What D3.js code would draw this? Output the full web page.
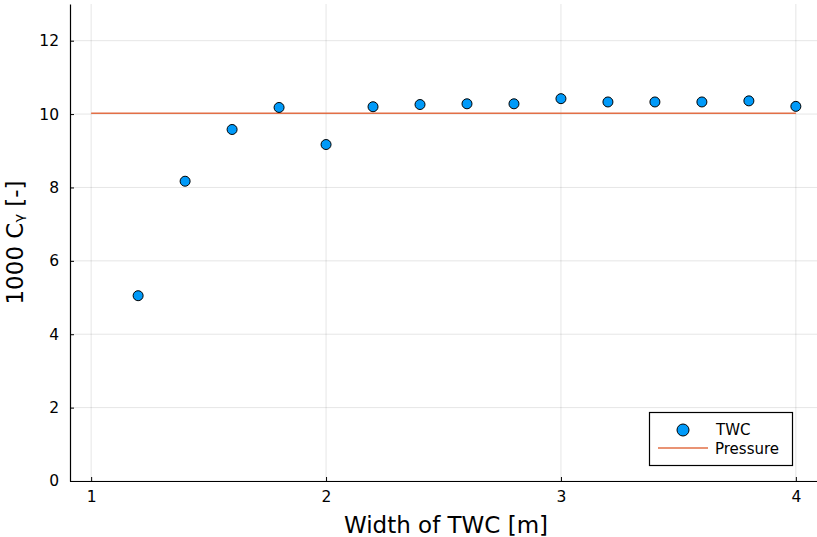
<!DOCTYPE html>
<html>
<head>
<meta charset="utf-8">
<script src="https://cdn.jsdelivr.net/npm/d3@7"></script>
<style>
  html, body { margin: 0; padding: 0; background: #fff; }
  svg text { font-family: "DejaVu Sans", sans-serif; }
</style>
</head>
<body>
<svg id="chart" width="817" height="537"></svg>
<script>
// TWC width sweep and the pressure-based reference value
const widths = [1.2, 1.4, 1.6, 1.8, 2.0, 2.2, 2.4, 2.6, 2.8, 3.0, 3.2, 3.4, 3.6, 3.8, 4.0];
const twcValues = [5.05, 8.17, 9.58, 10.18, 9.17, 10.20, 10.26, 10.28, 10.28, 10.42, 10.33, 10.33, 10.33, 10.36, 10.21];
const pressureX = [1.0, 4.0];
const pressureValues = [10.02, 10.02];
const xTicks = [1, 2, 3, 4];
const yTicks = [0, 2, 4, 6, 8, 10, 12];

const svg = d3.select("#chart");
const W = 817, H = 537;
const m = { left: 70, right: 0, top: 4, bottom: 56 };

const x = d3.scaleLinear().domain([0.91, 4.09]).range([m.left, W - m.right]);
const y = d3.scaleLinear().domain([0, 13]).range([H - m.bottom, m.top]);

// grid
const grid = svg.append("g").attr("stroke", "#000").attr("stroke-opacity", 0.1).attr("stroke-width", 1);
xTicks.forEach(t => grid.append("line")
  .attr("x1", x(t)).attr("x2", x(t)).attr("y1", y.range()[0]).attr("y2", y.range()[1]));
yTicks.forEach(t => grid.append("line")
  .attr("x1", x.range()[0]).attr("x2", x.range()[1]).attr("y1", y(t)).attr("y2", y(t)));

// axes
const xAxis = d3.axisBottom(x).tickValues(xTicks).tickFormat(d3.format("d")).tickSizeInner(-4).tickSizeOuter(0).tickPadding(10);
const yAxis = d3.axisLeft(y).tickValues(yTicks).tickFormat(d3.format("d")).tickSizeInner(-4).tickSizeOuter(0).tickPadding(11);

const gx = svg.append("g").attr("transform", `translate(0,${y(0)})`).call(xAxis);
const gy = svg.append("g").attr("transform", `translate(${m.left},0)`).call(yAxis);
[gx, gy].forEach(g => {
  g.select(".domain").attr("stroke", "#000").attr("stroke-width", 1.2);
  g.selectAll(".tick line").attr("stroke", "#000").attr("stroke-width", 1);
  g.selectAll(".tick text").attr("fill", "#000").style("font-size", "15.5px").style("font-family", "DejaVu Sans, sans-serif");
});

// axis titles
svg.append("text").attr("x", 446).attr("y", 533)
  .attr("text-anchor", "middle").style("font-size", "23px").text("Width of TWC [m]");
svg.append("text").attr("transform", `translate(23,${(y.range()[0] + y.range()[1]) / 2}) rotate(-90)`)
  .attr("text-anchor", "middle").style("font-size", "23px").text("1000 Cᵧ [-]");

// pressure reference line
const line = d3.line().x((d, i) => x(pressureX[i])).y(d => y(d));
svg.append("path").datum(pressureValues).attr("d", line)
  .attr("fill", "none").attr("stroke", "#e26f46").attr("stroke-width", 1.5);

// TWC points
svg.append("g").selectAll("circle").data(widths).join("circle")
  .attr("cx", d => x(d)).attr("cy", (d, i) => y(twcValues[i])).attr("r", 5)
  .attr("fill", "#009af9").attr("stroke", "#000").attr("stroke-width", 1);

// legend
const lg = svg.append("g");
lg.append("rect").attr("x", 649.5).attr("y", 412.5).attr("width", 143).attr("height", 53)
  .attr("fill", "#fff").attr("stroke", "#000").attr("stroke-width", 1.2);
lg.append("circle").attr("cx", 683).attr("cy", 430).attr("r", 6)
  .attr("fill", "#009af9").attr("stroke", "#000").attr("stroke-width", 1);
lg.append("line").attr("x1", 658).attr("x2", 708).attr("y1", 448).attr("y2", 448)
  .attr("stroke", "#e26f46").attr("stroke-width", 1.5);
lg.append("text").attr("x", 716).attr("y", 435).style("font-size", "15px").text("TWC");
lg.append("text").attr("x", 715).attr("y", 453.5).style("font-size", "15px").text("Pressure");
</script>
</body>
</html>
